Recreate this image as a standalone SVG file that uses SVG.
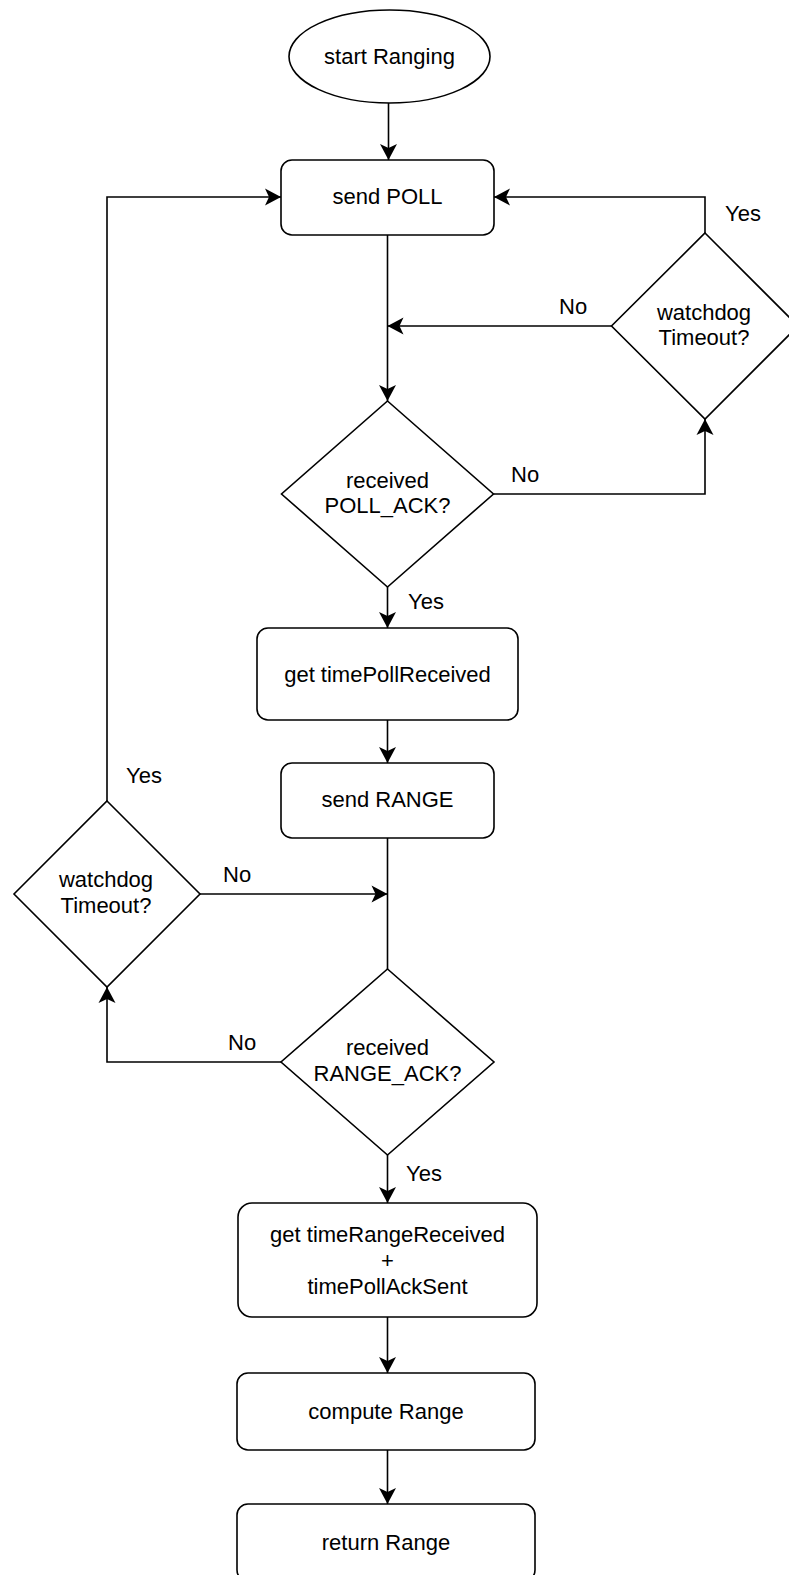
<svg xmlns="http://www.w3.org/2000/svg" width="789" height="1575" viewBox="0 0 789 1575">
<style>
.n{fill:#fff;stroke:#000;stroke-width:1.6}
.t{font-family:"Liberation Sans",Arial,sans-serif;font-size:22px;fill:#000;text-anchor:middle}
.l{font-family:"Liberation Sans",Arial,sans-serif;font-size:22px;fill:#000}
.c{fill:none;stroke:#000;stroke-width:1.6}
.a{marker-end:url(#arr)}
</style>
<defs>
<marker id="arr" markerUnits="userSpaceOnUse" markerWidth="20" markerHeight="20" viewBox="-18 -10 20 20" refX="0" refY="0" orient="auto">
<path d="M0,0 L-16,-8.5 L-12,0 L-16,8.5 Z" fill="#000"/>
</marker>
</defs>
<rect width="789" height="1575" fill="#fff"/>
<g id="connectors">
<path class="c a" d="M388.5,103 L388.5,160"/>
<path class="c a" d="M387.5,235 L387.5,401"/>
<path class="c a" d="M611.5,326 L387.5,326"/>
<path class="c a" d="M493.5,494 L705,494 L705,419"/>
<path class="c a" d="M705,233 L705,197 L494,197"/>
<path class="c a" d="M387.5,587 L387.5,628"/>
<path class="c a" d="M387.5,720 L387.5,763"/>
<path class="c" d="M387.5,838 L387.5,969"/>
<path class="c a" d="M200,894 L387.5,894"/>
<path class="c a" d="M281,1062 L107,1062 L107,987"/>
<path class="c a" d="M107,801 L107,197 L281,197"/>
<path class="c a" d="M387.5,1155 L387.5,1203"/>
<path class="c a" d="M387.5,1317 L387.5,1373"/>
<path class="c a" d="M387.5,1450 L387.5,1504"/>
<text class="l" x="725" y="221">Yes</text>
<text class="l" x="559" y="314">No</text>
<text class="l" x="511" y="482">No</text>
<text class="l" x="408" y="609">Yes</text>
<text class="l" x="126" y="783">Yes</text>
<text class="l" x="223" y="882">No</text>
<text class="l" x="228" y="1050">No</text>
<text class="l" x="406" y="1181">Yes</text>
</g>
<g id="start">
<ellipse class="n" cx="389.5" cy="56.5" rx="100.5" ry="46.5"/>
<text class="t" x="389.5" y="64">start Ranging</text>
</g>
<g id="sendPoll">
<rect class="n" x="281" y="160" width="213" height="75" rx="11"/>
<text class="t" x="387.5" y="204">send POLL</text>
</g>
<g id="watchdog1">
<polygon class="n" points="705,233 798,326 705,419 611.5,326"/>
<text class="t" x="704" y="320">watchdog</text>
<text class="t" x="704" y="345">Timeout?</text>
</g>
<g id="pollAck">
<polygon class="n" points="387.5,401 493.5,494 387.5,587 281.5,494"/>
<text class="t" x="387.5" y="488">received</text>
<text class="t" x="387.5" y="513">POLL_ACK?</text>
</g>
<g id="getPoll">
<rect class="n" x="257" y="628" width="261" height="92" rx="11"/>
<text class="t" x="387.5" y="682">get timePollReceived</text>
</g>
<g id="sendRange">
<rect class="n" x="281" y="763" width="213" height="75" rx="11"/>
<text class="t" x="387.5" y="807">send RANGE</text>
</g>
<g id="watchdog2">
<polygon class="n" points="107,801 200,894 107,987 14,894"/>
<text class="t" x="106" y="887">watchdog</text>
<text class="t" x="106" y="913">Timeout?</text>
</g>
<g id="rangeAck">
<polygon class="n" points="387.5,969 494,1062 387.5,1155 281,1062"/>
<text class="t" x="387.5" y="1055">received</text>
<text class="t" x="387.5" y="1081">RANGE_ACK?</text>
</g>
<g id="getRange">
<rect class="n" x="238" y="1203" width="299" height="114" rx="14"/>
<text class="t" x="387.5" y="1242">get timeRangeReceived</text>
<text class="t" x="387.5" y="1268">+</text>
<text class="t" x="387.5" y="1294">timePollAckSent</text>
</g>
<g id="compute">
<rect class="n" x="237" y="1373" width="298" height="77" rx="11"/>
<text class="t" x="386" y="1419">compute Range</text>
</g>
<g id="return">
<rect class="n" x="237" y="1504" width="298" height="77" rx="11"/>
<text class="t" x="386" y="1550">return Range</text>
</g>
</svg>
